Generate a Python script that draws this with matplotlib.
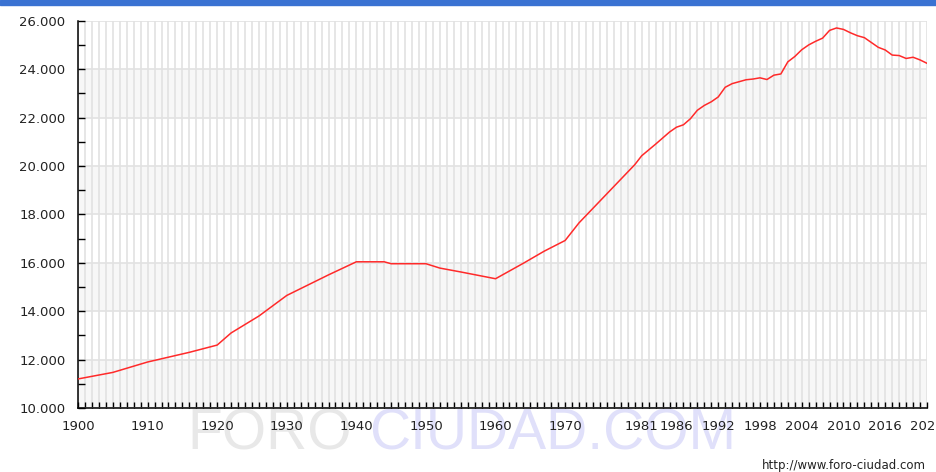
import matplotlib
matplotlib.use("Agg")
import matplotlib.pyplot as plt
from matplotlib.ticker import FuncFormatter, MultipleLocator

# population readings (sparse before 1986, yearly afterwards)
years = [1900, 1905, 1910, 1916, 1920, 1922, 1926, 1930, 1936, 1940, 1944, 1945,
         1950, 1952, 1955, 1960, 1964, 1967, 1970, 1972, 1976, 1980, 1981, 1983,
         1985, 1986, 1987, 1988, 1989, 1990, 1991, 1992, 1993, 1994, 1995, 1996,
         1997, 1998, 1999, 2000, 2001, 2002, 2003, 2004, 2005, 2006, 2007, 2008,
         2009, 2010, 2011, 2012, 2013, 2014, 2015, 2016, 2017, 2018, 2019, 2020,
         2021, 2022]
population = [11200, 11470, 11900, 12300, 12600, 13100, 13800, 14650, 15500, 16040,
              16040, 15960, 15960, 15780, 15620, 15340, 15980, 16480, 16920, 17650,
              18850, 20050, 20420, 20900, 21400, 21600, 21700, 21950, 22300, 22500,
              22650, 22850, 23250, 23400, 23480, 23560, 23590, 23640, 23570, 23750,
              23800, 24300, 24520, 24800, 25000, 25150, 25280, 25600, 25700, 25640,
              25500, 25380, 25300, 25100, 24900, 24790, 24580, 24560, 24440, 24490,
              24380, 24240]
label_years = [1900, 1910, 1920, 1930, 1940, 1950, 1960, 1970,
               1981, 1986, 1992, 1998, 2004, 2010, 2016, 2022]

fig = plt.figure(figsize=(9.36, 4.72), dpi=100)
fig.patch.set_facecolor("white")

# blue strip along the top
fig.add_artist(plt.Rectangle((0, 1 - 5 / 472), 1, 5 / 472, transform=fig.transFigure,
                             color="#3a72d2", zorder=-2))

# watermark behind the chart (its top is hidden by the plot area)
fig.text(187 / 936, 1 - 450 / 472, "FORO", fontsize=41, color="#e8e8e8",
         family="Liberation Sans", va="baseline", ha="left", zorder=-1)
fig.text(736 / 936, 1 - 450 / 472, "CIUDAD.COM", fontsize=41, color="#e0e0fa",
         family="Liberation Sans", va="baseline", ha="right", zorder=-1)
fig.text(926 / 936, 1 - 465 / 472, "http://www.foro-ciudad.com", fontsize=8.5,
         color="#222222", family="DejaVu Sans", ha="right", va="center")

ax = fig.add_axes([78 / 936, 64 / 472, 849 / 936, 387.3 / 472])
ax.patch.set_facecolor("white")

for lo in range(10000, 26000, 4000):
    ax.axhspan(lo, lo + 2000, color="#f7f7f7", zorder=0, lw=0)

ax.plot(years, population, color="#ff2a2a", lw=1.1, zorder=3)

ax.set_xlim(1900, 2022)
ax.set_ylim(10000, 26000)

all_years = list(range(1900, 2023))
ax.set_xticks(all_years)
ax.set_xticklabels([str(y) if y in label_years else "" for y in all_years])
ax.yaxis.set_major_locator(MultipleLocator(2000))
ax.yaxis.set_minor_locator(MultipleLocator(1000))
ax.yaxis.set_major_formatter(FuncFormatter(lambda v, p: f"{int(v):,}".replace(",", ".")))

ax.grid(True, axis="both", color="#e2e2e2", lw=1.2, zorder=1)
ax.set_axisbelow(True)

ax.tick_params(axis="x", direction="in", length=4, width=1, pad=9, labelsize=9.5,
               colors="black")
ax.tick_params(axis="y", which="both", direction="in", length=5, width=1, pad=9,
               labelsize=9.5, colors="black")
for lab in ax.get_xticklabels() + ax.get_yticklabels():
    lab.set_color("#222222")

for side in ["top", "right"]:
    ax.spines[side].set_visible(False)
for side in ["left", "bottom"]:
    ax.spines[side].set_linewidth(1.1)
    ax.spines[side].set_color("black")

fig.savefig("out.png", dpi=100)
